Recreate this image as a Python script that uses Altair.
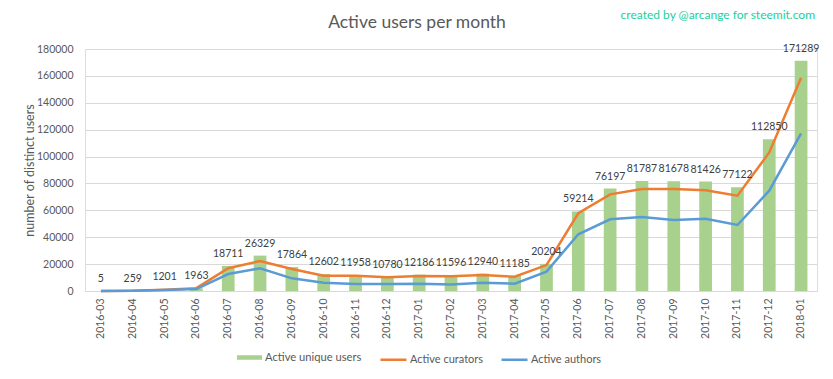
import altair as alt
import pandas as pd

months = ["2016-03", "2016-04", "2016-05", "2016-06", "2016-07", "2016-08", "2016-09",
          "2016-10", "2016-11", "2016-12", "2017-01", "2017-02", "2017-03", "2017-04",
          "2017-05", "2017-06", "2017-07", "2017-08", "2017-09", "2017-10", "2017-11",
          "2017-12", "2018-01"]
users = [5, 259, 1201, 1963, 18711, 26329, 17864, 12602, 11958, 10780, 12186, 11596,
         12940, 11185, 20204, 59214, 76197, 81787, 81678, 81426, 77122, 112850, 171289]
curators = [5, 200, 1000, 2100, 16900, 22300, 16400, 11400, 11400, 10200, 11100, 10900,
            11900, 10600, 19300, 57800, 71900, 75900, 75900, 74900, 70900, 103100, 158700]
authors = [5, 180, 800, 1400, 12600, 16900, 9400, 6200, 5200, 5200, 5400, 4800,
           6200, 5450, 14400, 42200, 53300, 55000, 52800, 53800, 49100, 74600, 117300]
y_ticks = [0, 20000, 40000, 60000, 80000, 100000, 120000, 140000, 160000, 180000]

TITLE = "Active users per month"
CREDIT = "created by @arcange for steemit.com"
S_USERS = "Active unique users"
S_CUR = "Active curators"
S_AUTH = "Active authors"

FONT = "Lato"
GRAY = "#595959"
NUM = 10.5

bars_df = pd.DataFrame({"month": months, "value": users, "series": S_USERS})
lines_df = pd.concat([
    pd.DataFrame({"month": months, "value": curators, "series": S_CUR, "order": 0}),
    pd.DataFrame({"month": months, "value": authors, "series": S_AUTH, "order": 1}),
])
title_df = pd.DataFrame({"t": [TITLE]})
credit_df = pd.DataFrame({"t": [CREDIT]})

x_enc = alt.X("month:N", sort=months, title=None,
              scale=alt.Scale(paddingInner=0.6, paddingOuter=0.3),
              axis=alt.Axis(labelAngle=270, labelFontSize=NUM, labelColor=GRAY, labelFont=FONT,
                            labelPadding=7, ticks=False, domainColor="#D9D9D9", domainWidth=1,
                            grid=False, labelOverlap=False))
y_enc = alt.Y("value:Q", title="number of distinct users",
              scale=alt.Scale(domain=[0, 180000], nice=False),
              axis=alt.Axis(values=y_ticks, tickCount=10, format="d", labelFontSize=NUM,
                            labelColor=GRAY, labelFont=FONT, labelPadding=12, ticks=False,
                            domain=False, labelOverlap=False,
                            gridColor="#D9D9D9", gridWidth=1, titleFont=FONT, titleFontSize=12.5,
                            titleColor=GRAY, titleFontWeight="normal",
                            titleX=-56, titleBaseline="middle"))

bars = alt.Chart(bars_df).mark_bar().encode(
    x=x_enc, y=y_enc,
    fill=alt.Fill("series:N", scale=alt.Scale(domain=[S_USERS], range=["#A9D18E"]),
                  legend=alt.Legend(orient="none", legendX=152, legendY=296, title=None,
                                    symbolType="M-1,-0.18L1,-0.18L1,0.18L-1,0.18Z",
                                    symbolSize=625, symbolStrokeWidth=0, labelOffset=3,
                                    labelFont=FONT, labelFontSize=11.2, labelColor=GRAY)),
)

lines = alt.Chart(lines_df).mark_line(strokeWidth=2.5).encode(
    x=x_enc,
    y=y_enc,
    order="order:Q",
    stroke=alt.Stroke("series:N", sort=[S_CUR, S_AUTH],
                      scale=alt.Scale(domain=[S_CUR, S_AUTH], range=["#ED7D31", "#5B9BD5"]),
                      legend=alt.Legend(orient="none", direction="horizontal", legendX=294,
                                        legendY=296, title=None, symbolType="stroke",
                                        symbolSize=676, symbolStrokeWidth=2.5, labelOffset=2,
                                        columnPadding=12, labelFont=FONT, labelFontSize=11,
                                        labelColor=GRAY)),
)

labels = alt.Chart(bars_df).mark_text(baseline="middle", dy=-12, fontSize=NUM, font=FONT,
                                      color="#404040").encode(
    x=x_enc,
    y=y_enc,
    text=alt.Text("value:Q", format="d"),
)

title = alt.Chart(title_df).mark_text(align="center", baseline="middle", fontSize=17.5,
                                      font=FONT, color=GRAY).encode(
    x=alt.value(332), y=alt.value(-26), text="t:N")

credit = alt.Chart(credit_df).mark_text(align="right", baseline="middle", fontSize=12,
                                        font=FONT, color="#20D0A0").encode(
    x=alt.value(730), y=alt.value(-34), text="t:N")

chart = alt.layer(bars, lines, labels, title, credit).resolve_scale(
    fill="independent", stroke="independent"
).properties(
    width=732, height=242,
    autosize=alt.AutoSizeParams(type="none"),
    padding={"left": 77, "top": 41, "right": 8, "bottom": 80},
).configure_view(stroke=None).configure(background="white")

chart.save("out.html", embed_options={"renderer": "svg", "actions": False})
